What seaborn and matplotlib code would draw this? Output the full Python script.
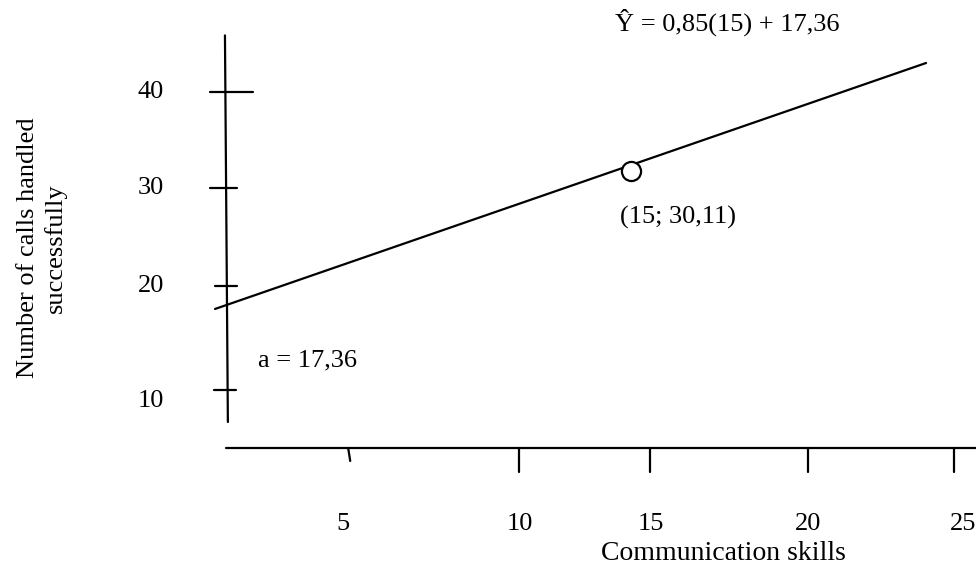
import matplotlib
matplotlib.use("Agg")
import matplotlib.pyplot as plt
import seaborn as sns
import pandas as pd

x_tick_labels = ['5', '10', '15', '20', '25']
x_tick_at = [4.15, 10.0, 14.5, 19.9, 24.9]     # where each tick sits on the drawn axis
x_label_at = [3.97, 10.03, 14.52, 19.9, 25.2]
y_tick_labels = ['40', '30', '20', '10']
y_tick_at = [40.0, 30.3, 20.46, 10.0]
y_label_at = [40.0, 30.33, 20.46, 8.88]
y_tick_left = [-0.58, -0.58, -0.41, -0.45]
y_tick_right = [0.89, 0.34, 0.34, 0.31]

line_x = [-0.41, 23.94]
line_y = [18.15, 42.92]
point_x = [13.84]
point_y = [32.0]

sns.set_theme(style="white")
plt.rcParams['font.family'] = ['Liberation Serif', 'DejaVu Serif']
plt.rcParams['text.color'] = 'black'

fs = 19
f = plt.figure(figsize=(9.76, 5.65), dpi=100)
ax = f.add_axes([0, 0, 1, 1])
ax.set_xlim(-7.774, 25.651)
ax.set_ylim(-7.633, 49.265)

lw = 1.6
# axes drawn by hand
ax.plot([-0.07, 0.03], [45.7, 6.77], color='black', lw=lw)
ax.plot([-0.03, 25.651], [4.15, 4.15], color='black', lw=lw)

for i, lab in enumerate(y_tick_labels):
  ax.plot([y_tick_left[i], y_tick_right[i]], [y_tick_at[i], y_tick_at[i]], color='black', lw=lw)
  ax.text(-2.6, y_label_at[i], lab, ha='center', va='center', fontsize=fs)

for i, lab in enumerate(x_tick_labels):
  if i == 0:
    ax.plot([x_tick_at[i], x_tick_at[i] + 0.07], [4.15, 2.84], color='black', lw=lw)
  else:
    ax.plot([x_tick_at[i], x_tick_at[i]], [4.15, 1.73], color='black', lw=lw)
  ax.text(x_label_at[i], -3.5, lab, ha='center', va='center', fontsize=fs)

df_line = pd.DataFrame({'x': line_x, 'y': line_y})
sns.lineplot(data=df_line, x='x', y='y', color='black', lw=lw, ax=ax)
df_pt = pd.DataFrame({'x': point_x, 'y': point_y})
sns.scatterplot(data=df_pt, x='x', y='y', s=190, facecolor='white', edgecolor='black',
                linewidth=1.6, zorder=5, ax=ax)
ax.axis('off')

ax.text(17.14, 47.05, 'Ŷ = 0,85(15) + 17,36', ha='center', va='center', fontsize=fs)
ax.text(15.46, 27.41, '(15; 30,11)', ha='center', va='center', fontsize=fs)
ax.text(2.76, 13.01, 'a = 17,36', ha='center', va='center', fontsize=fs)
ax.text(16.99, -6.5, 'Communication skills', ha='center', va='center', fontsize=20)
ax.text(-6.34, 24.3, 'Number of calls handled\nsuccessfully', ha='center', va='center',
        rotation=90, multialignment='center', fontsize=fs, linespacing=1.3)

plt.savefig('out.png', dpi=100)
